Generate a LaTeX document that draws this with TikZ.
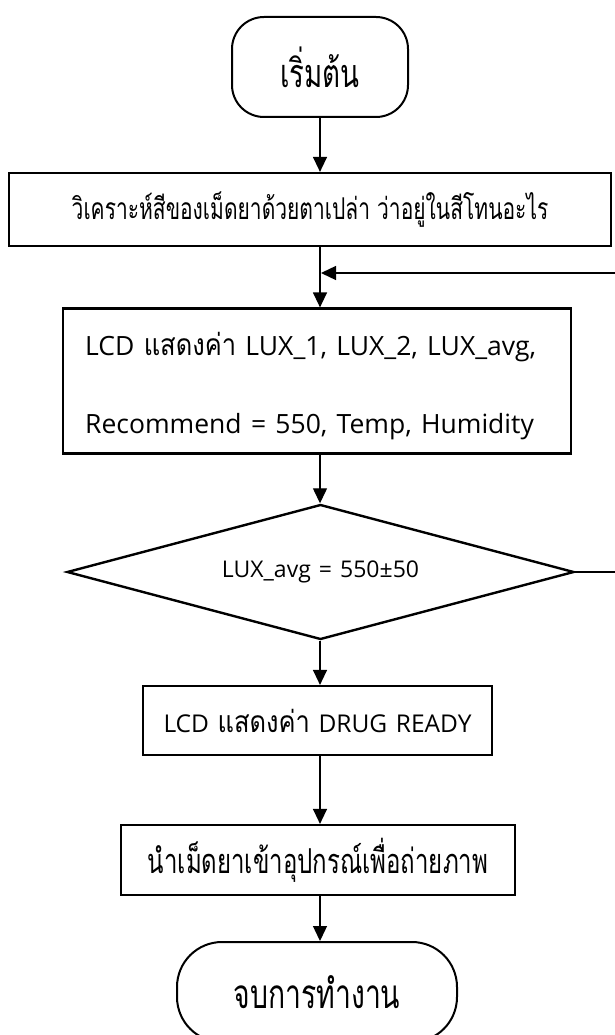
\documentclass[tikz,border=0pt]{standalone}
\usepackage{fontspec}
\setmainfont{Open Sans}[WordSpace=1.35]
\newfontfamily\thai[Script=Thai, FakeStretch=0.7]{Loma}
\newfontfamily\thaiw[Script=Thai, FakeStretch=0.85]{Loma}
\usetikzlibrary{arrows.meta,shapes.geometric}
\tikzset{
  box/.style={draw, line width=2.2pt, rectangle, inner sep=0pt, align=center},
  term/.style={draw, line width=2pt, rectangle, rounded corners=32pt, inner sep=0pt,
               minimum width=176pt, minimum height=100pt},
  decision/.style={draw, line width=2.4pt, diamond, inner sep=0pt, aspect=3.75,
               minimum width=507pt, minimum height=135pt},
  txt/.style={inner sep=0pt, anchor=base west, font=\fontsize{26.5}{32}\selectfont},
  arr/.style={line width=1.3pt, -{Triangle[width=14pt,length=15pt]}},
  link/.style={line width=1.3pt}
}
\newcommand{\thsmall}[1]{{\thaiw\fontsize{30}{32}\selectfont #1}}
\begin{document}
\begin{tikzpicture}[x=1pt,y=-1pt]
\useasboundingbox (0,0) rectangle (614,1035);

\node[term] (start) at (320,67) {\fontsize{39.5}{40}\selectfont\thai เริ่มต้น};

\node[box, minimum width=602pt, minimum height=73pt] (b2) at (310,209.5)
  {\fontsize{30}{34}\selectfont\thai วิเคราะห์สีของเม็ดยาด้วยตาเปล่า ว่าอยู่ในสีโทนอะไร};

% display box with its two text lines
\node[box, minimum width=508pt, minimum height=145pt] (b3) at (317,381) {};
\node[txt] (b3a) at (85,355) {LCD \thsmall{แสดงค่า} LUX\_1, LUX\_2, LUX\_avg,};
\node[txt] (b3b) at (85,433) {Recommend = 550, Temp, Humidity};

\node[decision] (dia) at (320.5,572)
  {\fontsize{23}{28}\selectfont LUX\_avg = 550±50};

\node[box, minimum width=349pt, minimum height=69pt] (b4) at (317.5,720.5)
  {\fontsize{24.5}{32}\selectfont LCD \thsmall{แสดงค่า} DRUG READY};

\node[box, minimum width=394pt, minimum height=70pt] (b5) at (318,860)
  {\fontsize{34.3}{38}\selectfont\thai นำเม็ดยาเข้าอุปกรณ์เพื่อถ่ายภาพ};

\node[term, minimum width=280pt, rounded corners=45pt] (end) at (317,992)
  {\fontsize{40.5}{44}\selectfont\thai จบการทำงาน};

% main flow
\draw[arr] (start.south) -- (start.south |- b2.north);
\draw[arr] (b2.south -| start.south) -- (b3.north -| start.south);
\draw[arr] (b3.south -| start.south) -- (dia.north -| start.south);
\draw[arr] (dia.south -| start.south) -- (b4.north -| start.south);
\draw[arr] (b4.south -| start.south) -- (b5.north -| start.south);
\draw[arr] (b5.south -| start.south) -- (end.north -| start.south);

% return loop from the decision back above the display box
\coordinate (loopx) at (640,0);
\coordinate (join) at (321,273);
\draw[link] (dia.east) -- (dia.east -| loopx) -- (loopx |- join);
\draw[arr] (loopx |- join) -- (join);
\end{tikzpicture}
\end{document}
